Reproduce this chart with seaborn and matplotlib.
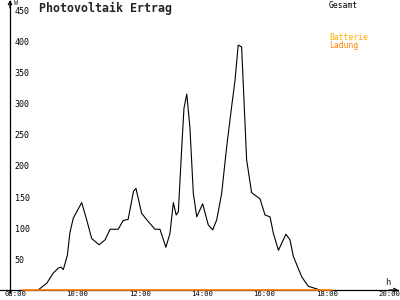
import matplotlib
matplotlib.use("Agg")
import matplotlib.pyplot as plt
import seaborn as sns
import pandas as pd

# --- data (time in decimal hours, power in W) ---
gesamt_time = [8.74, 9.02, 9.22, 9.38, 9.47, 9.55, 9.68, 9.76, 9.87, 10.14,
               10.30, 10.46, 10.70, 10.89, 11.05, 11.31, 11.47, 11.63, 11.80, 11.88,
               12.06, 12.23, 12.49, 12.65, 12.84, 12.97, 13.08, 13.17, 13.24, 13.35,
               13.42, 13.51, 13.61, 13.72, 13.83, 14.02, 14.20, 14.34, 14.47, 14.63,
               14.79, 14.95, 15.06, 15.16, 15.27, 15.43, 15.59, 15.86, 16.02, 16.18,
               16.29, 16.45, 16.69, 16.82, 16.93, 17.20, 17.41, 17.73, 17.79]
gesamt_watt = [0, 11, 27, 35, 37, 33, 56, 92, 116, 141,
               113, 83, 73, 81, 98, 98, 112, 114, 159, 164,
               124, 113, 98, 98, 69, 91, 141, 121, 126, 231,
               293, 316, 263, 156, 118, 139, 105, 97, 113, 156,
               231, 296, 339, 395, 392, 210, 157, 147, 121, 118,
               91, 64, 90, 81, 54, 21, 6, 1, 0]
ladung_time = [8.26, 18.17]
ladung_watt = [0, 0]

x_ticks = [8, 10, 12, 14, 16, 18, 20]
x_labels = ["08:00", "10:00", "12:00", "14:00", "16:00", "18:00", "20:00"]
y_ticks = [50, 100, 150, 200, 250, 300, 350, 400, 450]

df_g = pd.DataFrame({"t": gesamt_time, "w": gesamt_watt})
df_l = pd.DataFrame({"t": ladung_time, "w": ladung_watt})

sns.set_style("white")
plt.rcParams["font.family"] = ["DejaVu Sans Mono", "DejaVu Sans"]

fig = plt.figure(figsize=(4, 3), dpi=100)
ax = fig.add_axes([0, 0, 1, 1])
X0, X1 = 7.519, 20.35
Y0, Y1 = -16.1, 467.7
ax.set_xlim(X0, X1)
ax.set_ylim(Y0, Y1)
ax.set_facecolor("white")

YAX = 7.84
ax.spines["top"].set_visible(False)
ax.spines["right"].set_visible(False)
ax.spines["left"].set_position(("data", YAX))
ax.spines["bottom"].set_position(("data", 0))
ax.spines["left"].set_bounds(-3, 466)
ax.spines["bottom"].set_bounds(X0, 20.28)
for s in ("left", "bottom"):
    ax.spines[s].set_linewidth(0.9)
    ax.spines[s].set_color("black")

sns.lineplot(data=df_g, x="t", y="w", ax=ax, color="black", linewidth=0.8,
             estimator=None, sort=False)
sns.lineplot(data=df_l, x="t", y="w", ax=ax, color="#ff8000", linewidth=1.2,
             estimator=None, sort=False, zorder=4)

ax.set_xlabel("")
ax.set_ylabel("")
ax.set_xticks(x_ticks)
ax.set_xticklabels(x_labels)
ax.set_yticks(y_ticks)
ax.set_yticklabels([str(v) for v in y_ticks])
ax.tick_params(axis="x", direction="inout", length=5, width=0.9, pad=-1.8,
               labelsize=5.2, colors="black")
ax.tick_params(axis="y", direction="inout", length=4, width=0.9, pad=-5.5,
               labelsize=6, colors="black")
for lab in ax.get_yticklabels():
    lab.set_horizontalalignment("left")

# arrows at axis ends
ax.annotate("", xy=(YAX, Y1), xytext=(YAX, 455),
            arrowprops=dict(arrowstyle="->", lw=0.9, color="black",
                            shrinkA=0, shrinkB=0, mutation_scale=6))
ax.annotate("", xy=(20.3, 0), xytext=(20.0, 0),
            arrowprops=dict(arrowstyle="->", lw=0.9, color="black",
                            shrinkA=0, shrinkB=0, mutation_scale=6))

fig.text(14 / 400, 1 - 0 / 300, "W", fontsize=4.8, ha="left", va="top")
fig.text(385 / 400, 1 - 278 / 300, "h", fontsize=6.5, ha="left", va="top")

fig.text(39 / 400, 1 - 2 / 300, "Photovoltaik Ertrag", fontsize=8.4,
         fontweight="bold", ha="left", va="top")
fig.text(329 / 400, 1 - 1.5 / 300, "Gesamt", fontsize=5.8, ha="left", va="top",
         color="black")
fig.text(329 / 400, 1 - 32.5 / 300, "Batterie", fontsize=5.8, ha="left", va="top",
         color="#ffaa00")
fig.text(329 / 400, 1 - 40.5 / 300, "Ladung", fontsize=5.8, ha="left", va="top",
         color="#ff8000")

fig.savefig("out.png", dpi=100)
